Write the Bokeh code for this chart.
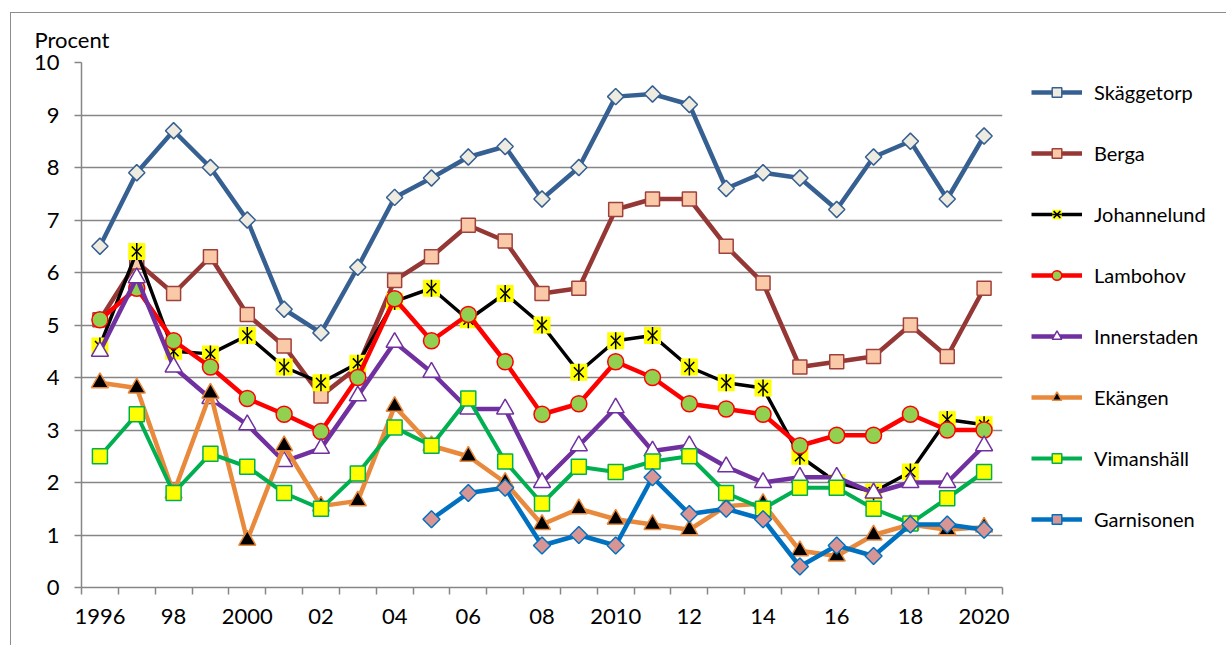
import math
from bokeh.plotting import figure
from bokeh.models import (FixedTicker, Legend, LegendItem, CustomJSTickFormatter, Range1d)
from bokeh.embed import file_html
from bokeh.resources import INLINE

years = list(range(1996, 2021))
tick_years = [1996, 1998, 2000, 2002, 2004, 2006, 2008, 2010, 2012, 2014, 2016, 2018, 2020]
tick_labels = ["1996", "98", "2000", "02", "04", "06", "08", "2010", "12", "14", "16", "18", "2020"]

skaggetorp = [6.5, 7.9, 8.7, 8.0, 7.0, 5.3, 4.85, 6.1, 7.43, 7.8, 8.2, 8.4, 7.4, 8.0, 9.35, 9.4, 9.2, 7.6, 7.9, 7.8, 7.2, 8.2, 8.5, 7.4, 8.6]
berga = [5.1, 6.2, 5.6, 6.3, 5.2, 4.6, 3.65, 4.2, 5.85, 6.3, 6.9, 6.6, 5.6, 5.7, 7.2, 7.4, 7.4, 6.5, 5.8, 4.2, 4.3, 4.4, 5.0, 4.4, 5.7]
johannelund = [4.6, 6.4, 4.5, 4.45, 4.8, 4.2, 3.9, 4.27, 5.45, 5.7, 5.1, 5.6, 5.0, 4.1, 4.7, 4.8, 4.2, 3.9, 3.8, 2.5, 2.0, 1.82, 2.2, 3.2, 3.1]
lambohov = [5.1, 5.7, 4.7, 4.2, 3.6, 3.3, 2.97, 4.0, 5.5, 4.7, 5.2, 4.3, 3.3, 3.5, 4.3, 4.0, 3.5, 3.4, 3.3, 2.7, 2.9, 2.9, 3.3, 3.0, 3.0]
innerstaden = [4.5, 5.9, 4.2, 3.6, 3.1, 2.4, 2.65, 3.65, 4.67, 4.1, 3.4, 3.4, 2.0, 2.7, 3.42, 2.6, 2.7, 2.3, 2.0, 2.1, 2.1, 1.8, 2.0, 2.0, 2.7]
ekangen = [3.9, 3.8, 1.8, 3.7, 0.9, 2.7, 1.55, 1.65, 3.45, 2.7, 2.5, 2.0, 1.2, 1.5, 1.3, 1.2, 1.1, 1.55, 1.6, 0.7, 0.6, 1.0, 1.2, 1.1, 1.15]
vimanshall = [2.5, 3.3, 1.8, 2.55, 2.3, 1.8, 1.5, 2.17, 3.05, 2.7, 3.6, 2.4, 1.6, 2.3, 2.2, 2.4, 2.5, 1.8, 1.5, 1.9, 1.9, 1.5, 1.22, 1.7, 2.2]
garnisonen_years = list(range(2005, 2021))
garnisonen = [1.3, 1.8, 1.9, 0.8, 1.0, 0.8, 2.1, 1.4, 1.5, 1.3, 0.4, 0.8, 0.6, 1.2, 1.2, 1.1]

FONT = "Lato"
GRAY = "#868686"

p = figure(frame_width=921, frame_height=525, output_backend="svg", toolbar_location=None,
           min_border_left=70, min_border_top=49, min_border_bottom=58, min_border_right=10,
           x_range=Range1d(1995.5, 2020.5), y_range=Range1d(0, 10),
           title="Procent",
           styles={"margin-left": "10px", "margin-top": "12px",
                   "border-left": "1.5px solid #8c8c8c", "border-top": "1.5px solid #8c8c8c"})
p.outline_line_color = None
p.background_fill_color = "white"
p.border_fill_color = "white"

p.title.text_font = FONT
p.title.text_font_size = "22px"
p.title.text_font_style = "normal"
p.title.text_color = "black"
p.title.align = "left"
p.title.offset = -47
p.title.standoff = 19

# axes
p.xaxis.ticker = FixedTicker(ticks=tick_years, minor_ticks=[y + 0.5 for y in range(1995, 2021)])
p.xaxis.formatter = CustomJSTickFormatter(
    args=dict(ty=tick_years, tl=tick_labels),
    code="const i = ty.indexOf(Math.round(tick)); return i >= 0 ? tl[i] : '';")
p.xaxis.major_tick_line_color = None
p.xaxis.major_tick_out = 7
p.xaxis.major_tick_in = 0
p.xaxis.minor_tick_out = 7
p.xaxis.minor_tick_in = 0
p.xaxis.minor_tick_line_color = GRAY
p.xaxis.minor_tick_line_width = 1.5
p.xaxis.major_label_standoff = 14

p.yaxis.ticker = FixedTicker(ticks=list(range(0, 11)))
p.yaxis.major_tick_out = 7
p.yaxis.major_tick_in = 0
p.yaxis.minor_tick_line_color = None
p.yaxis.major_tick_line_color = GRAY
p.yaxis.major_tick_line_width = 1.5
p.yaxis.major_label_standoff = 15

for ax in (p.xaxis, p.yaxis):
    ax.axis_line_color = GRAY
    ax.axis_line_width = 1.5
    ax.major_label_text_font = FONT
    ax.major_label_text_font_size = "22px"
    ax.major_label_text_color = "black"

p.xgrid.grid_line_color = None
p.ygrid.ticker = FixedTicker(ticks=list(range(1, 11)))
p.ygrid.grid_line_color = GRAY
p.ygrid.grid_line_width = 1.5

items = []

def series(name, xs, ys, color, lw, markers):
    r_line = p.line(xs, ys, line_color=color, line_width=lw)
    rs = [r_line]
    for m in markers:
        rs.append(p.scatter(xs, ys, **m))
    items.append(LegendItem(label=name, renderers=rs))

Q = math.pi / 4
series("Skäggetorp", years, skaggetorp, "#376092", 4.5,
       [dict(marker="square", size=11.5, angle=Q, fill_color="#EEECE1", line_color="#376092", line_width=1.5)])
series("Berga", years, berga, "#953735", 4.5,
       [dict(marker="square", size=14, fill_color="#FAC9A8", line_color="#A0403C", line_width=1.5)])
series("Johannelund", years, johannelund, "black", 3.5,
       [dict(marker="square", size=17, fill_color="#FFFF00", line_color=None),
        dict(marker="x", size=14, line_color="black", line_width=1.5),
        dict(marker="dash", size=17, angle=math.pi / 2, line_color="black", line_width=1.5)])
series("Lambohov", years, lambohov, "#FF0000", 4.5,
       [dict(marker="circle", size=16, fill_color="#92D050", line_color="#FF0000", line_width=1.5)])
series("Innerstaden", years, innerstaden, "#7030A0", 4.5,
       [dict(marker="triangle", size=17, fill_color="white", line_color="#7030A0", line_width=1.5)])
series("Ekängen", years, ekangen, "#E8893C", 4.5,
       [dict(marker="triangle", size=17, fill_color="black", line_color="#E8893C", line_width=1.5)])
series("Vimanshäll", years, vimanshall, "#00B050", 4,
       [dict(marker="square", size=15, fill_color="#FFFF00", line_color="#00B050", line_width=1.5)])
series("Garnisonen", garnisonen_years, garnisonen, "#0070C0", 4.5,
       [dict(marker="square", size=12, angle=Q, fill_color="#D99594", line_color="#0070C0", line_width=1.5)])

legend = Legend(items=items, location="top_left", orientation="vertical",
                margin=18, padding=19, border_line_color=None, background_fill_alpha=0,
                title=" ", title_location="left", title_text_font_size="1px", title_standoff=10,
                glyph_width=51, glyph_height=24, label_height=24, spacing=37,
                label_standoff=12, label_text_font=FONT, label_text_font_size="20px",
                label_text_color="black")
p.add_layout(legend, "right")

open("out.html", "w").write(file_html(p, INLINE))
